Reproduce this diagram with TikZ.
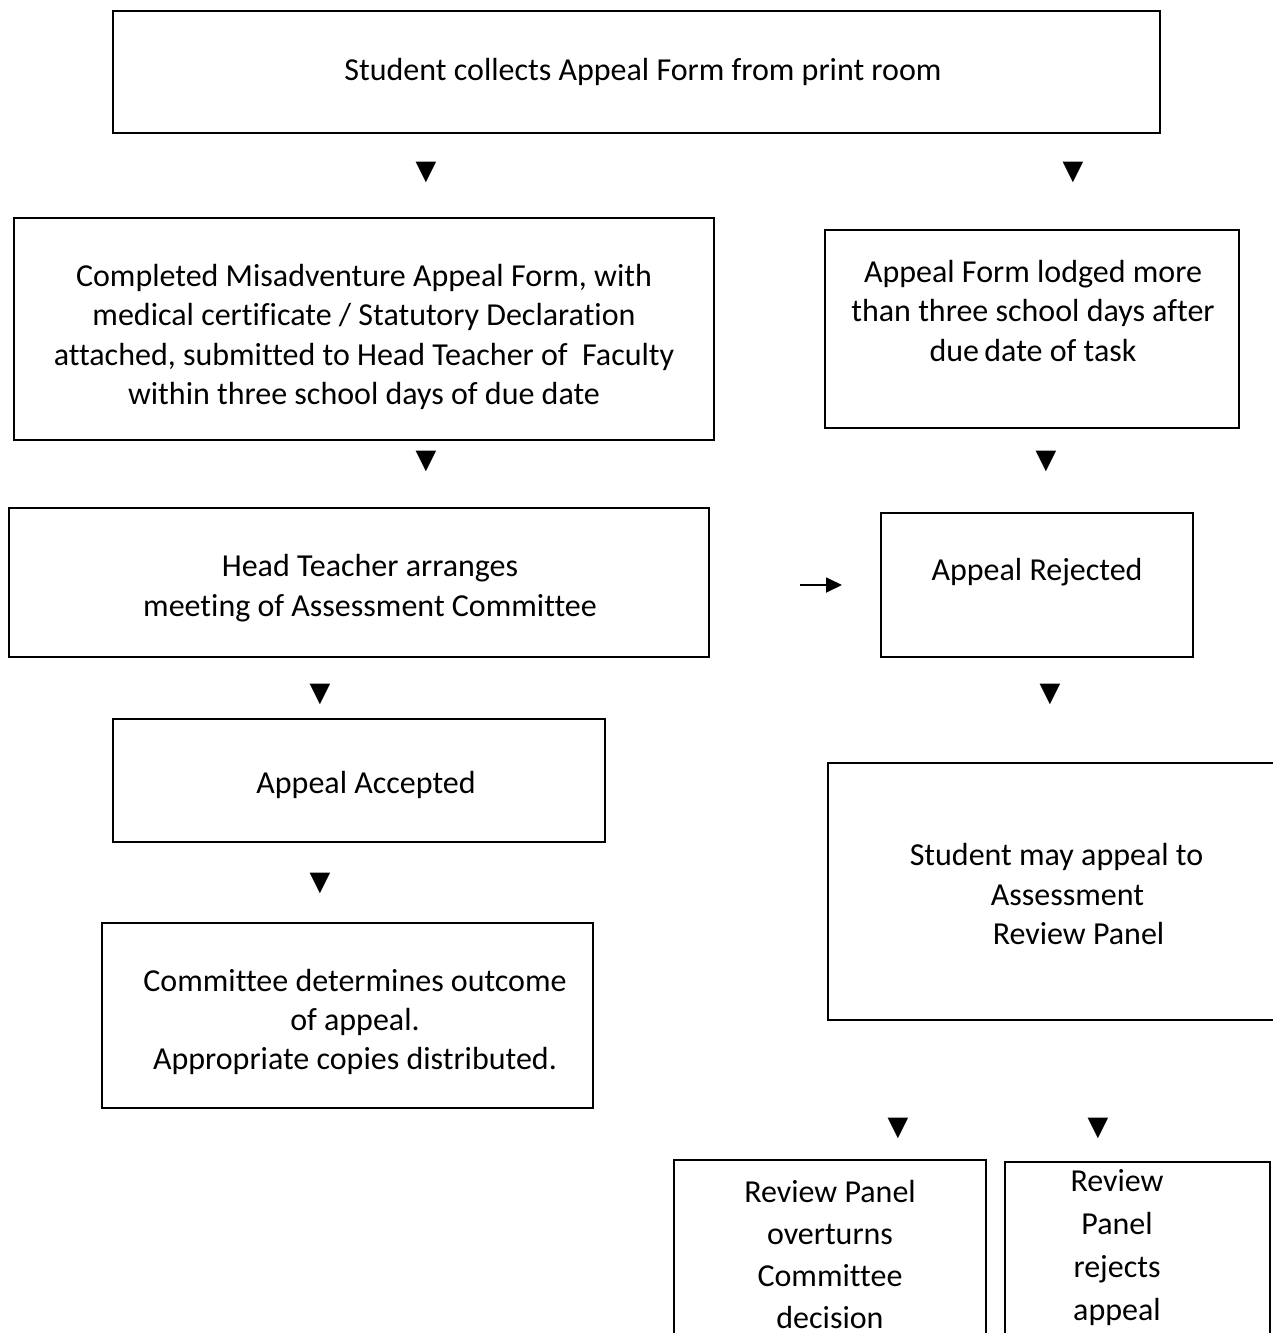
\documentclass[tikz,border=0pt]{standalone}
\usepackage{fontspec}
\setmainfont{Carlito}[Ligatures=NoCommon]
\newfontfamily\symfont{DejaVu Sans}
\usetikzlibrary{arrows.meta}
\tikzset{
  box/.style={draw=black, line width=1.3pt, inner sep=0pt},
  txt/.style={inner sep=0pt, align=center, font=\fontsize{32}{39.3}\selectfont},
  tri/.style={inner sep=0pt, font=\symfont\fontsize{27}{27}\selectfont},
  flow/.style={line width=1.8pt, -{Triangle[length=16pt,width=15pt]}}
}
\begin{document}
\begin{tikzpicture}[x=1pt,y=-1pt]
\useasboundingbox (0,0) rectangle (1273,1333);
\clip (0,0) rectangle (1273,1333);
\fill[white] (0,0) rectangle (1273,1333);
% boxes
\node[box, minimum width=1047pt, minimum height=122pt] (b1) at (636.5,72) {};
\node[box, minimum width=700pt, minimum height=222pt] (b2) at (364,329) {};
\node[box, minimum width=414pt, minimum height=198pt] (b3) at (1032,329) {};
\node[box, minimum width=700pt, minimum height=149pt] (b4) at (359,582.5) {};
\node[box, minimum width=312pt, minimum height=144pt] (b5) at (1037,585) {};
\node[box, minimum width=492pt, minimum height=123pt] (b6) at (359,780.5) {};
\node[box, minimum width=460pt, minimum height=257pt] (b7) at (1058,891.5) {};
\node[box, minimum width=491pt, minimum height=185pt] (b8) at (347.5,1015.5) {};
\node[box, minimum width=312pt, minimum height=200pt] (b9) at (830,1260) {};
\node[box, minimum width=265pt, minimum height=200pt] (b10) at (1137.5,1262) {};
% texts
\node[txt] (t1) at (643,72) {Student collects Appeal Form from print room};
\node[txt] (t2) at (364,337) {Completed Misadventure Appeal Form, with\\medical certificate / Statutory Declaration\\attached, submitted to Head Teacher of\ \ Faculty\\within three school days of due date};
\node[txt] (t3) at (1033,311) {Appeal Form lodged more\\than three school days after\\due\,date of task};
\node[txt] (t4) at (370,588) {Head Teacher arranges\\meeting of Assessment Committee};
\node[txt] (t5) at (1037,572) {Appeal Rejected};
\node[txt] (t6) at (366,785) {Appeal Accepted};
\node[txt] (t7) at (1056.5,894) {Student may appeal to\\\hspace*{22pt}Assessment\\\hspace*{44pt}Review Panel};
\node[txt] (t8) at (355,1022) {Committee determines outcome\\of appeal.\\Appropriate copies distributed.};
\node[txt, font=\fontsize{32}{42}\selectfont] (t9) at (830,1254) {Review Panel\\overturns\\Committee\\decision};
\node[txt, font=\fontsize{32}{43}\selectfont] (t10) at (1117,1248) {Review\\Panel\\rejects\\appeal};
% triangles
\node[tri] (a1) at (426,172) {▼};
\node[tri] (a2) at (1073,172) {▼};
\node[tri] (a3) at (426,461) {▼};
\node[tri] (a4) at (1046,461) {▼};
\node[tri] (a5) at (320,694) {▼};
\node[tri] (a6) at (1050,694) {▼};
\node[tri] (a7) at (320,883) {▼};
\node[tri] (a8) at (898,1128) {▼};
\node[tri] (a9) at (1098,1128) {▼};
% short arrow
\coordinate (s0) at (800,585);
\coordinate (s1) at (842,585);
\draw[flow] (s0) -- (s1);
\end{tikzpicture}
\end{document}
